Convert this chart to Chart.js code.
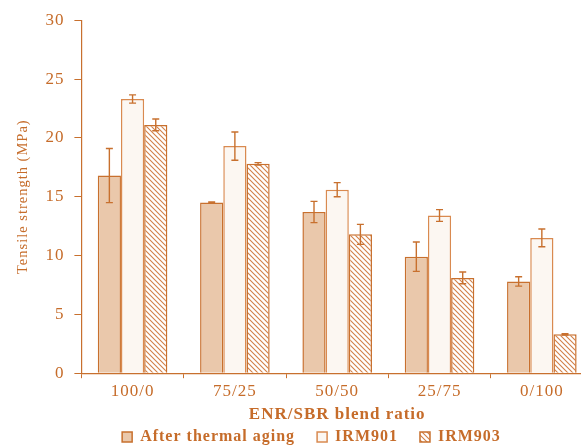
<!DOCTYPE html>
<html>
<head>
<meta charset="utf-8">
<script src="https://cdn.jsdelivr.net/npm/chart.js@4"></script>
<style>
  html, body { margin: 0; padding: 0; background: #fff; overflow: hidden; }
  #wrap { width: 597px; height: 447px; }
</style>
</head>
<body>
<div id="wrap"><canvas id="chart"></canvas></div>
<script>
const categories = ['100/0', '75/25', '50/50', '25/75', '0/100'];
const seriesNames = ['After thermal aging', 'IRM901', 'IRM903'];

const thermalAging = [16.8, 14.5, 13.7, 9.9, 7.8];
const thermalAgingErr = [2.3, 0.05, 0.9, 1.25, 0.4];
const irm901 = [23.3, 19.3, 15.6, 13.4, 11.5];
const irm901Err = [0.35, 1.2, 0.6, 0.5, 0.75];
const irm903 = [21.1, 17.8, 11.8, 8.1, 3.3];
const irm903Err = [0.5, 0.1, 0.85, 0.5, 0.05];

const textColor = '#c66c2a';
const lineColor = '#c8702e';
const legendGap = 22;

function makeHatch() {
    const c = document.createElement('canvas');
    c.width = 5;
    c.height = 5;
    const g = c.getContext('2d');
    g.fillStyle = '#ffffff';
    g.fillRect(0, 0, 5, 5);
    g.strokeStyle = '#d28048';
    g.lineWidth = 1.1;
    g.beginPath();
    g.moveTo(-1, -1);
    g.lineTo(6, 6);
    g.moveTo(-1, 4);
    g.lineTo(1, 6);
    g.moveTo(4, -1);
    g.lineTo(6, 1);
    g.stroke();
    return g.createPattern(c, 'repeat');
}

// the original text is set wide, so spread the letters a little
const wideText = {
    id: 'wideText',
    beforeUpdate(chart) { chart.ctx.letterSpacing = '1px'; },
    beforeLayout(chart) { chart.ctx.letterSpacing = '1px'; },
    beforeDraw(chart) { chart.ctx.letterSpacing = '1px'; }
};

// wide gaps between legend items but a short legend row under the axis title
const legendPlace = {
    id: 'legendPlace',
    beforeInit(chart) {
        const fit = chart.legend.fit;
        chart.legend.fit = function () {
            fit.call(this);
            this.height = 20;
        };
    },
    afterLayout(chart) {
        // only move top/left: the legend clips to its own box
        chart.legend.top -= legendGap - 2;
        chart.legend.left += 16;
    }
};

// error bars drawn from the bar positions and the y scale
const errorBars = {
    id: 'errorBars',
    afterDatasetsDraw(chart) {
        const ctx = chart.ctx;
        const y = chart.scales.y;
        ctx.save();
        ctx.strokeStyle = lineColor;
        ctx.lineWidth = 1.4;
        chart.data.datasets.forEach((ds, i) => {
            const meta = chart.getDatasetMeta(i);
            meta.data.forEach((bar, j) => {
                const v = ds.data[j];
                const e = ds.errors[j];
                const top = y.getPixelForValue(v + e);
                const bot = y.getPixelForValue(v - e);
                const x = bar.x;
                ctx.beginPath();
                ctx.moveTo(x, top);
                ctx.lineTo(x, bot);
                ctx.moveTo(x - 3.5, top);
                ctx.lineTo(x + 3.5, top);
                ctx.moveTo(x - 3.5, bot);
                ctx.lineTo(x + 3.5, bot);
                ctx.stroke();
            });
        });
        ctx.restore();
    }
};

const serif = '"Liberation Serif", "DejaVu Serif", serif';

new Chart(document.getElementById('chart'), {
    type: 'bar',
    data: {
        labels: categories,
        datasets: [
            {
                label: seriesNames[0],
                data: thermalAging,
                errors: thermalAgingErr,
                backgroundColor: '#eac8ab',
                borderColor: lineColor,
                borderWidth: 1.5
            },
            {
                label: seriesNames[1],
                data: irm901,
                errors: irm901Err,
                backgroundColor: '#fcf7f2',
                borderColor: '#d98a50',
                borderWidth: 1.5
            },
            {
                label: seriesNames[2],
                data: irm903,
                errors: irm903Err,
                backgroundColor: makeHatch(),
                borderColor: lineColor,
                borderWidth: 1.5
            }
        ]
    },
    options: {
        responsive: true,
        maintainAspectRatio: false,
        animation: false,
        layout: { padding: { top: 14, right: 4, left: 14, bottom: 0 } },
        datasets: {
            bar: { barPercentage: 1.0, categoryPercentage: 0.68 }
        },
        plugins: {
            legend: {
                position: 'bottom',
                labels: {
                    color: textColor,
                    boxWidth: 10,
                    boxHeight: 10,
                    padding: legendGap,
                    font: { family: serif, size: 16, weight: 'bold' }
                }
            },
            tooltip: { enabled: false }
        },
        scales: {
            x: {
                grid: {
                    drawOnChartArea: false,
                    drawTicks: true,
                    tickLength: 5,
                    color: lineColor
                },
                border: { color: lineColor, width: 1.2 },
                ticks: {
                    color: textColor,
                    padding: 3,
                    font: { family: serif, size: 17 }
                },
                title: {
                    display: true,
                    text: 'ENR/SBR blend ratio',
                    color: textColor,
                    padding: { top: 0, bottom: 2 },
                    font: { family: serif, size: 17, weight: 'bold' }
                }
            },
            y: {
                min: 0,
                max: 30,
                grid: {
                    drawOnChartArea: false,
                    drawTicks: true,
                    tickLength: 7,
                    color: lineColor
                },
                border: { color: lineColor, width: 1.2 },
                ticks: {
                    stepSize: 5,
                    color: textColor,
                    padding: 10,
                    font: { family: serif, size: 17 }
                },
                title: {
                    display: true,
                    text: 'Tensile strength (MPa)',
                    color: textColor,
                    padding: { top: 0, bottom: 4 },
                    font: { family: serif, size: 14.5 }
                }
            }
        }
    },
    plugins: [wideText, legendPlace, errorBars]
});
</script>
</body>
</html>
